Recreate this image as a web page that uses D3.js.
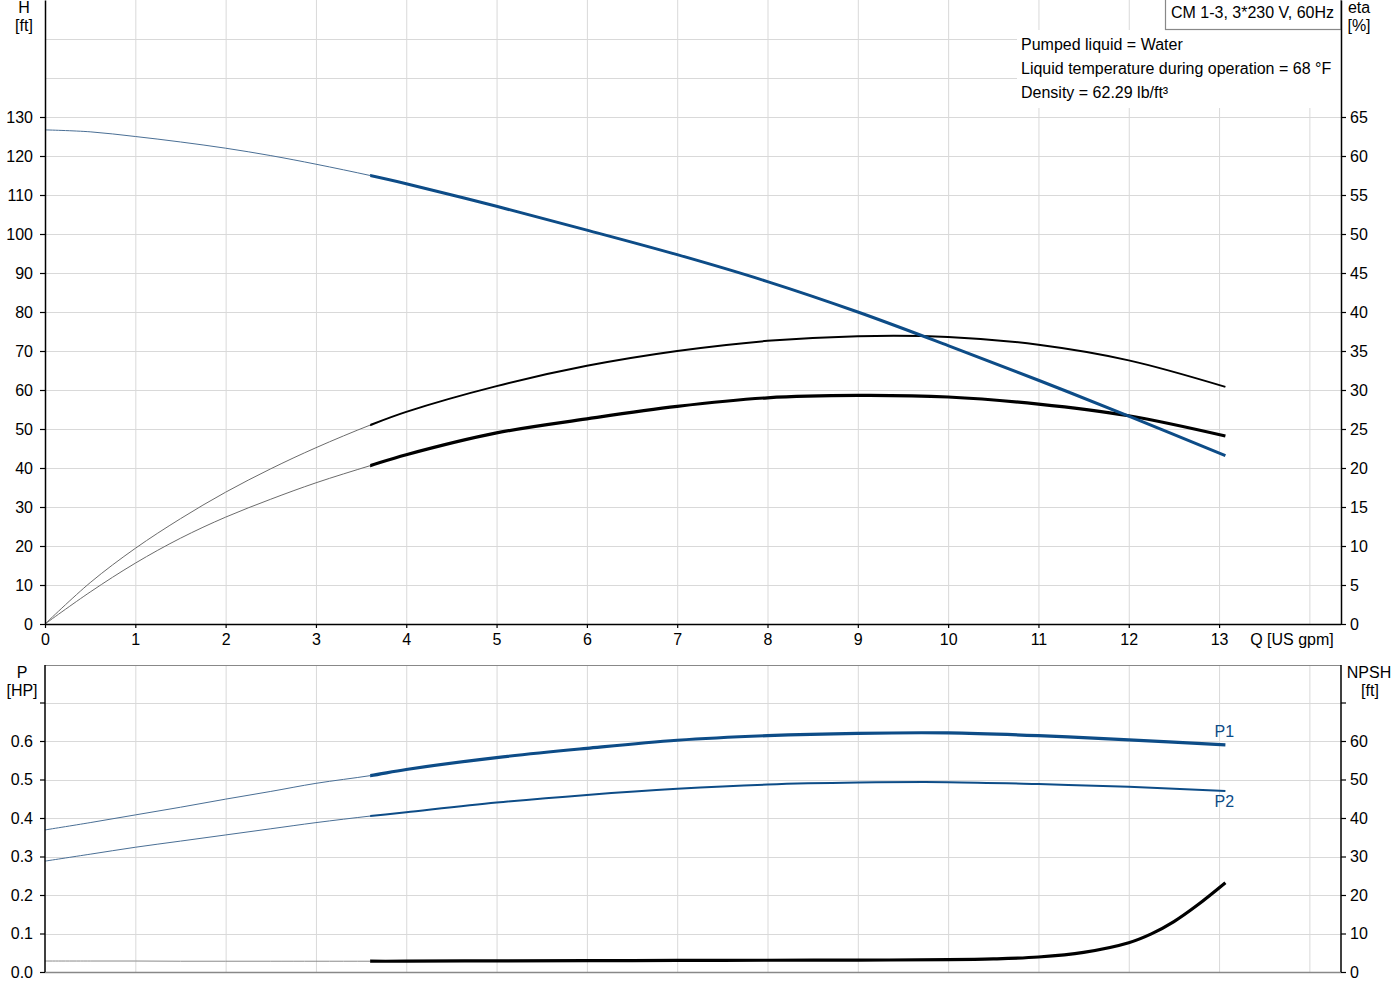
<!DOCTYPE html>
<html>
<head>
<meta charset="utf-8">
<script src="https://cdn.jsdelivr.net/npm/d3@7"></script>
<style>
  body { margin: 0; background: #fff; }
  svg { font-family: "Liberation Sans", Arial, sans-serif; }
</style>
</head>
<body>
<svg class="canvas"></svg>
<script>
// flow points, left of the duty range (thin) and inside it (thick)
const qLow = [0, 0.5, 1, 1.5, 2, 2.5, 3, 3.6];
const qHigh = [3.6, 4, 5, 6, 7, 8, 9, 10, 11, 12, 13.07];
const qNpsh = [3.6, 4, 5, 6, 7, 8, 9, 10, 10.5, 11, 11.5, 12, 12.25, 12.5, 12.75, 13.07];
const qStart = 3.6;

// head H [ft]
const headLow = [126.7, 126.2, 125.0, 123.6, 122.0, 120.1, 117.9, 115.0];
const headHigh = [115.0, 112.9, 107.1, 101.0, 94.7, 87.8, 80.0, 71.4, 62.5, 53.3, 43.2];

// efficiencies [%]
const etaPumpLow = [0, 5.3, 9.7, 13.5, 16.9, 19.9, 22.6, 25.5];
const etaPumpHigh = [25.5, 27.2, 30.5, 33.1, 35.0, 36.3, 36.9, 36.8, 35.8, 33.8, 30.4];
const etaTotLow = [0, 4.1, 7.8, 11.0, 13.7, 16.0, 18.1, 20.3];
const etaTotHigh = [20.3, 21.7, 24.5, 26.3, 27.9, 29.0, 29.3, 29.1, 28.2, 26.7, 24.1];

// power [HP]
const p1Low = [0.369, 0.388, 0.408, 0.428, 0.449, 0.469, 0.490, 0.510];
const p1High = [0.510, 0.526, 0.557, 0.581, 0.602, 0.614, 0.620, 0.621, 0.614, 0.603, 0.590];
const p2Low = [0.288, 0.306, 0.324, 0.340, 0.356, 0.372, 0.388, 0.405];
const p2High = [0.405, 0.415, 0.440, 0.460, 0.476, 0.487, 0.492, 0.493, 0.488, 0.481, 0.470];

// NPSH [ft]
const npshLow = [2.85, 2.85, 2.85, 2.8, 2.8, 2.8, 2.8, 2.8];
const npshHigh = [2.8, 2.8, 2.9, 2.95, 3.0, 3.05, 3.1, 3.2, 3.4, 3.9, 5.1, 7.6, 9.9, 13.1, 17.2, 23.2];

// ticks
const qTicks = d3.range(0, 14);
const qGrid = d3.range(1, 15);
const hTicks = d3.range(0, 140, 10);
const hGrid = d3.range(10, 160, 10);
const etaTicks = d3.range(0, 70, 5);
const pTicks = [0, 0.1, 0.2, 0.3, 0.4, 0.5, 0.6, 0.7];
const npshTicks = [0, 10, 20, 30, 40, 50, 60, 70];

const infoLines = ["Pumped liquid = Water", "Liquid temperature during operation = 68 °F", "Density = 62.29 lb/ft³"];
const title = "CM 1-3, 3*230 V, 60Hz";

const w = 1400;
const h = 1000;
const left = 45;
const right = 1341;
const blue = "#0d4c87";
const gridCol = "#d9d9d9";
const fontSize = "16px";

const svg = d3.select("svg.canvas").attr("width", w).attr("height", h);

const x = d3.scaleLinear().domain([0, 14.35]).range([left, right]);
const yH = d3.scaleLinear().domain([0, 160]).range([624, 0]);
const yEta = d3.scaleLinear().domain([0, 80]).range([624, 0]);
const yP = d3.scaleLinear().domain([0, 0.8]).range([972, 664]);
const yN = d3.scaleLinear().domain([0, 80]).range([972, 664]);

// clip paths splitting each curve at the start of the duty range
const defs = svg.append("defs");
defs.append("clipPath").attr("id", "clipLow").append("rect")
    .attr("x", 0).attr("y", 0).attr("width", x(qStart)).attr("height", h);
defs.append("clipPath").attr("id", "clipHigh").append("rect")
    .attr("x", x(qStart)).attr("y", 0).attr("width", w - x(qStart)).attr("height", h);

let gridTop = () => {
    const g = svg.append("g").attr("stroke", gridCol).attr("stroke-width", 1);
    g.selectAll(".vg").data(qGrid).enter().append("line")
        .attr("x1", d => x(d) + 0.5).attr("x2", d => x(d) + 0.5)
        .attr("y1", 0).attr("y2", 624);
    g.selectAll(".hg").data(hGrid).enter().append("line")
        .attr("x1", left).attr("x2", right)
        .attr("y1", d => Math.round(yH(d)) + 0.5).attr("y2", d => Math.round(yH(d)) + 0.5);
}

let gridBottom = () => {
    const g = svg.append("g").attr("stroke", gridCol).attr("stroke-width", 1);
    g.selectAll(".vg").data(qGrid).enter().append("line")
        .attr("x1", d => x(d) + 0.5).attr("x2", d => x(d) + 0.5)
        .attr("y1", 665).attr("y2", 972);
    g.selectAll(".hg").data(pTicks.slice(1)).enter().append("line")
        .attr("x1", left).attr("x2", right)
        .attr("y1", d => Math.round(yP(d)) + 0.5).attr("y2", d => Math.round(yP(d)) + 0.5);
}

let styleAxis = (g, col) => {
    g.attr("font-family", null).attr("font-size", fontSize);
    g.select(".domain").attr("stroke", col).attr("stroke-width", 1.5);
    g.selectAll(".tick line").attr("stroke", "#000").attr("stroke-width", 1.2);
    g.selectAll(".tick text").attr("fill", "#000");
}

let drawAxes = () => {
    // top chart
    const ax = svg.append("g").attr("transform", "translate(0,624)")
        .call(d3.axisBottom(x).tickValues(qTicks).tickSize(4).tickPadding(6).tickSizeOuter(0).tickFormat(d3.format("d")));
    styleAxis(ax, "#000");
    ax.select(".domain").attr("d", "M" + left + ",0.5H" + right);

    const al = svg.append("g").attr("transform", "translate(" + left + ",0)")
        .call(d3.axisLeft(yH).tickValues(hTicks).tickSize(5).tickPadding(7).tickSizeOuter(0));
    styleAxis(al, "#000");
    al.selectAll(".tick text").attr("dy", "0.36em");

    const ar = svg.append("g").attr("transform", "translate(" + right + ",0)")
        .call(d3.axisRight(yEta).tickValues(etaTicks).tickSize(5).tickPadding(4).tickSizeOuter(0));
    styleAxis(ar, "#000");
    ar.selectAll(".tick text").attr("dy", "0.36em");

    // bottom chart
    svg.append("line").attr("x1", left).attr("x2", right).attr("y1", 665.5).attr("y2", 665.5)
        .attr("stroke", "#888").attr("stroke-width", 1.2);
    svg.append("line").attr("x1", left).attr("x2", right).attr("y1", 972.5).attr("y2", 972.5)
        .attr("stroke", "#888").attr("stroke-width", 1.5);

    const bl = svg.append("g").attr("transform", "translate(" + left + ",0)")
        .call(d3.axisLeft(yP).tickValues(pTicks).tickSize(5).tickPadding(7).tickSizeOuter(0)
            .tickFormat(d => d === 0.7 ? "" : d3.format(".1f")(d)));
    styleAxis(bl, "#000");
    bl.select(".domain").attr("d", "M0,665V972");

    const br = svg.append("g").attr("transform", "translate(" + right + ",0)")
        .call(d3.axisRight(yN).tickValues(npshTicks).tickSize(5).tickPadding(4).tickSizeOuter(0)
            .tickFormat(d => d === 70 ? "" : d));
    styleAxis(br, "#000");
    br.select(".domain").attr("d", "M0,665V972");
}

// one smooth curve through low + high points, drawn thin before qStart and thick after
let drawCurve = (qsLow, valsLow, qsHigh, valsHigh, yScale, thinCol, col, width) => {
    const qs = qsLow.concat(qsHigh.slice(1));
    const vals = valsLow.concat(valsHigh.slice(1));
    const line = d3.line()
        .x((d, i) => x(qs[i]))
        .y(d => yScale(d))
        .curve(d3.curveCatmullRom.alpha(0.5));
    svg.append("path")
        .datum(vals)
        .attr("d", line)
        .attr("clip-path", "url(#clipLow)")
        .attr("fill", "none")
        .attr("stroke", thinCol)
        .attr("stroke-width", 1);
    svg.append("path")
        .datum(vals)
        .attr("d", line)
        .attr("clip-path", "url(#clipHigh)")
        .attr("fill", "none")
        .attr("stroke", col)
        .attr("stroke-width", width);
}

let drawCurves = () => {
    const grey = "#6b6b6b";
    const thinBlue = "#4a6f95";
    drawCurve(qLow, etaPumpLow, qHigh, etaPumpHigh, yEta, grey, "#000", 2);
    drawCurve(qLow, etaTotLow, qHigh, etaTotHigh, yEta, grey, "#000", 3.2);
    drawCurve(qLow, headLow, qHigh, headHigh, yH, thinBlue, blue, 3);

    drawCurve(qLow, p1Low, qHigh, p1High, yP, thinBlue, blue, 3.2);
    drawCurve(qLow, p2Low, qHigh, p2High, yP, thinBlue, blue, 2);
    drawCurve(qLow, npshLow, qNpsh, npshHigh, yN, "#8a8a8a", "#000", 3.2);
}

let drawLabels = () => {
    const t = (txt, px, py, anchor, col) => svg.append("text")
        .attr("x", px).attr("y", py).attr("text-anchor", anchor || "middle")
        .attr("dy", "0.36em").attr("font-size", fontSize).attr("fill", col || "#000").text(txt);

    t("H", 24, 7);
    t("[ft]", 24, 25);
    t("eta", 1359, 7);
    t("[%]", 1359, 25);
    t("P", 22, 672);
    t("[HP]", 22, 690);
    t("NPSH", 1369, 672);
    t("[ft]", 1370, 690);
    t("Q [US gpm]", 1292, 639);
    t("P1", x(13.07) - 1, 731, "middle", blue);
    t("P2", x(13.07) - 1, 801, "middle", blue);

    // info block
    svg.append("rect").attr("x", 1017).attr("y", 30).attr("width", right - 1017).attr("height", 78)
        .attr("fill", "#fff");
    infoLines.forEach((s, i) => t(s, 1021, 44 + i * 24, "start"));

    // title box
    svg.append("rect").attr("x", 1165.5).attr("y", -1).attr("width", right - 1165.5).attr("height", 30.5)
        .attr("fill", "#fff").attr("stroke", "#888").attr("stroke-width", 1.2);
    t(title, 1171, 12, "start");
}

gridTop();
gridBottom();
drawLabels();
drawCurves();
drawAxes();
</script>
</body>
</html>
